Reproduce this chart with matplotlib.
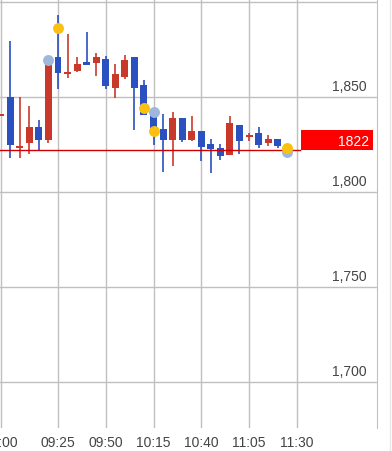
import matplotlib
matplotlib.use("Agg")
import matplotlib.pyplot as plt
from matplotlib.patches import Rectangle
from matplotlib.transforms import blended_transform_factory

plt.rcParams['font.family'] = ['Liberation Sans', 'DejaVu Sans']

# 5-minute candles (open, high, low, close)
opens  = [1840, 1850, 1823.4, 1825.9, 1834.2, 1827.5, 1871, 1862.1, 1863.7, 1868.4,
          1868.1, 1870, 1854.9, 1860.5, 1871, 1856.3, 1841, 1833.2, 1827.2, 1838.9,
          1827.2, 1832.1, 1825.1, 1823, 1819.6, 1835.3, 1829, 1831, 1825.8, 1827.9, 1823]
highs  = [1841, 1879.3, 1849.8, 1845.1, 1837.7, 1868, 1893.2, 1883.2, 1870.9, 1884,
          1873.2, 1871.6, 1867.2, 1871.9, 1871, 1858.8, 1843, 1840.9, 1842.3, 1838.9,
          1839.8, 1832.1, 1827.7, 1825.1, 1839.8, 1835.3, 1831, 1834, 1830, 1827.9, 1823]
lows   = [1840, 1817.9, 1817.9, 1820, 1822.3, 1826, 1854, 1859.8, 1863, 1867,
          1860.9, 1854, 1849.6, 1859.5, 1832.8, 1840.7, 1825, 1810.7, 1813.8, 1826.1,
          1827, 1816.2, 1810, 1816.7, 1819.6, 1819.8, 1826.7, 1823, 1824, 1823.2, 1821]
closes = [1841, 1824.9, 1824.2, 1834.2, 1827.5, 1867.2, 1862.8, 1863.3, 1867.4, 1867,
          1871, 1855.9, 1862.1, 1869.5, 1854.9, 1840.7, 1831.5, 1827.2, 1838.9, 1827.2,
          1832.3, 1823.8, 1822.8, 1818.8, 1836.3, 1826.8, 1830.2, 1824.9, 1827.9, 1824.2, 1822]

# signal markers (candle index, price)
gray_idx = [5, 16, 30]
gray_val = [1869.4, 1842.3, 1820.9]
yellow_idx = [6, 15, 16, 30]
yellow_val = [1886.2, 1844.0, 1832.3, 1823.2]

last_price = 1822
tick_pos = [0, 6, 11, 16, 21, 26, 31]
tick_labels = ['09:00', '09:25', '09:50', '10:15', '10:40', '11:05', '11:30']
y_ticks = [1700, 1750, 1800, 1850, 1900]

UP = '#c9392b'
DOWN = '#2b50bf'

fig = plt.figure(figsize=(3.92, 4.52), dpi=100)
ax = fig.add_axes([0, 23/452, 377/392, 429/452])
ax.set_xlim(-0.073, 39.4)
ax.set_ylim(1675.8, 1901.6)

for s in ['top', 'left', 'bottom']:
    ax.spines[s].set_visible(False)
ax.spines['right'].set_color('#c0c0c0')

# grid
for y in y_ticks:
    ax.axhline(y, color='#c0c0c0', lw=1, zorder=0)
for x in tick_pos:
    ax.axvline(x, color='#c0c0c0', lw=1, zorder=0)

# candles
w = 0.73
for i, (o, h, l, c) in enumerate(zip(opens, highs, lows, closes)):
    col = UP if c >= o else DOWN
    ax.plot([i, i], [l, h], color=col, lw=1.2, zorder=2, solid_capstyle='butt')
    bottom = min(o, c)
    height = max(abs(c - o), 0.8)
    ax.add_patch(Rectangle((i - w/2, bottom), w, height, facecolor=col,
                           edgecolor='none', zorder=3))

# last price line
ax.plot([-0.073, 31.35], [last_price, last_price], color='#cc0000', lw=1, zorder=4)

# markers
ax.scatter(gray_idx, gray_val, s=62, color='#9db8dc', zorder=5, linewidths=0)
ax.scatter(yellow_idx, yellow_val, s=62, color='#fcc010', zorder=6, linewidths=0)

# price label box
ax.add_patch(Rectangle((31.45, last_price), 7.5, 10.5, facecolor='#ff0000',
                       edgecolor='none', zorder=7, clip_on=False))
ax.text(38.55, last_price + 5.1, str(last_price), color='white', fontsize=10,
        ha='right', va='center', zorder=8)

# y labels inside plot
trans = blended_transform_factory(ax.transAxes, ax.transData)
for y in y_ticks:
    ax.text(366.5/377, y + 2.2, f"{y:,}", transform=trans, ha='right', va='bottom',
            fontsize=10, color='#444444')

ax.set_yticks([])
ax.set_xticks(tick_pos)
ax.set_xticklabels(tick_labels, fontsize=10, color='#444444')
ax.tick_params(axis='x', length=0, pad=5)

# outer right line
fig.add_artist(plt.Line2D([389.5/392, 389.5/392], [0, 1], color='#e6e6e6', lw=1))

fig.savefig('out.png', dpi=100)
